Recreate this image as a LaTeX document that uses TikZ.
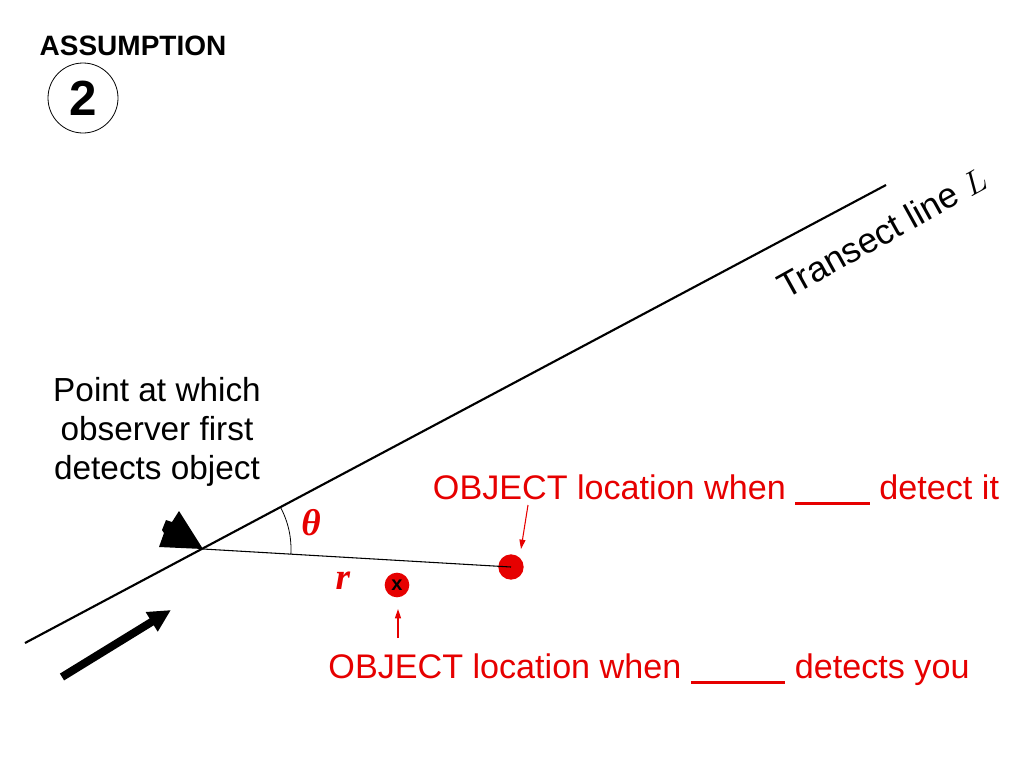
\documentclass[tikz,border=0pt]{standalone}
\usepackage{fontspec}
\setmainfont{Liberation Sans}
\newfontfamily\serifbi[BoldItalicFont={Liberation Serif Bold Italic}]{Liberation Serif}
\usetikzlibrary{arrows.meta}
\definecolor{objred}{RGB}{230,0,0}
\newcommand{\blankbar}[1]{\rule[-4.5pt]{#1}{2.4pt}}
\tikzset{
  redtext/.style={text=objred, font=\fontsize{25.6}{29}\selectfont, inner sep=0pt},
  blacktext/.style={font=\fontsize{25}{29}\selectfont, inner sep=0pt},
  redpointer/.style={objred, line width=0.8pt, -{Triangle[length=7pt,width=4.5pt]}},
  reddot/.style={circle, fill=objred, inner sep=0pt},
  greek/.style={text=objred, font=\serifbi\bfseries\itshape\fontsize{28}{28}\selectfont, inner sep=0pt}
}
\begin{document}
\begin{tikzpicture}[x=0.75pt,y=-0.75pt]
\useasboundingbox (0,0) rectangle (1024,768);
% heading
\node[font=\fontsize{21}{23}\selectfont\bfseries, inner sep=0pt] (assump) at (133,46) {ASSUMPTION};
\node[circle, draw, line width=0.6pt, minimum size=52.5pt, inner sep=0pt, font=\fontsize{37}{39}\selectfont\bfseries] (two) at (83,98) {2};
% transect line
\coordinate (L0) at (25,643);
\coordinate (L1) at (886,185);
\coordinate (P) at (203,549);
\draw[line width=1.6pt] (L0) -- (L1);
\node[font=\fontsize{26.5}{29}\selectfont, inner sep=0pt, rotate=29, anchor=base west] (tl) at (786,300) {Transect line $L$};
% observer
\node[blacktext, align=center] (obs) at (157,432) {Point at which\\observer first\\detects object};
\fill (P) -- (179,511) -- (172,522) -- (166,520) -- (162,530) -- (164,533) -- (159,547) -- cycle;
\coordinate (A0) at (62,677);
\coordinate (A1) at (171,610);
\draw[line width=6pt, -{Triangle[length=17pt,width=16pt]}] (A0) -- (A1);
% object
\node[reddot, minimum size=19pt] (obj) at (511,567) {};
\draw[line width=0.8pt] (P) -- (obj.center);
\node[reddot, minimum size=18.5pt, font=\fontsize{15}{15}\selectfont\bfseries] (objx) at (397,585) {x};
% angle
\draw[line width=0.6pt] (P) ++(-28:88) arc[start angle=-28, end angle=3.3, radius=88];
\node[greek] (theta) at (311,523) {θ};
\node[greek] (r) at (343,581) {r};
% labels
\node[redtext, anchor=base] (lab1) at (716,499) {OBJECT location when \blankbar{56pt} detect it};
\node[redtext, anchor=base] (lab2) at (649,678) {OBJECT location when \blankbar{71pt} detects you};
\coordinate (p1) at (528,505);
\coordinate (p2) at (398,638);
\draw[redpointer] (p1) -- (521,549);
\draw[redpointer] (p2) -- (398,609);
\end{tikzpicture}
\end{document}
